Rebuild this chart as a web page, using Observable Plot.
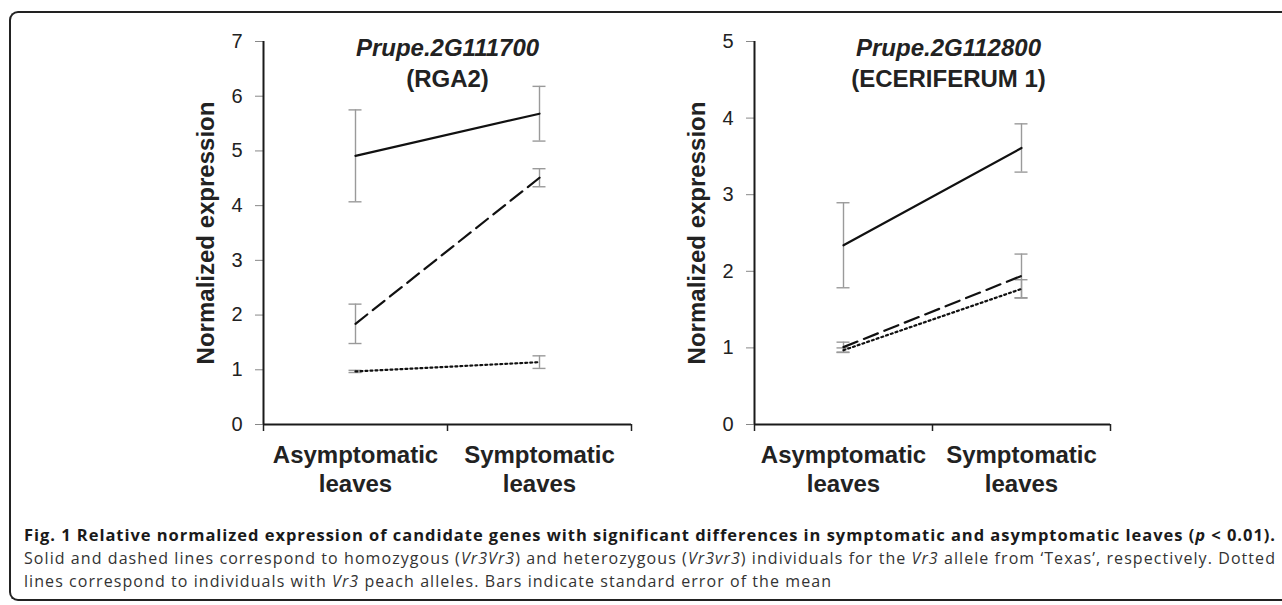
<!DOCTYPE html>
<html>
<head>
<meta charset="utf-8">
<script src="https://cdn.jsdelivr.net/npm/d3@7"></script>
<script src="https://cdn.jsdelivr.net/npm/@observablehq/plot@0.6"></script>
<style>
  html, body { margin: 0; padding: 0; background: #fff; width: 1282px; height: 605px; overflow: hidden; }
  #frame { position: absolute; left: 9px; top: 11px; width: 1320px; height: 590px;
           border: 2.5px solid #222; border-right: none; border-radius: 9px 0 0 9px; box-sizing: border-box; }
  .plot { position: absolute; top: 0; }
  .cap { position: absolute; left: 24px; white-space: nowrap; font-family: "Open Sans", "Noto Sans", sans-serif;
         color: #333; font-size: 16px; line-height: 22px; }
  .cap.b { font-weight: 700; color: #1a1a1a; font-size: 16.5px; }
</style>
</head>
<body>
<div id="frame"></div>
<div id="left" class="plot" style="left:0px"></div>
<div id="right" class="plot" style="left:640px"></div>
<div id="c1" class="cap b" style="top:524px">Fig. 1 Relative normalized expression of candidate genes with significant differences in symptomatic and asymptomatic leaves (<i>p</i>&nbsp;&lt;&nbsp;0.01).</div>
<div id="c2" class="cap" style="top:547px">Solid and dashed lines correspond to homozygous (<i>Vr3Vr3</i>) and heterozygous (<i>Vr3vr3</i>) individuals for the <i>Vr3</i> allele from ‘Texas’, respectively. Dotted</div>
<div id="c3" class="cap" style="top:570px">lines correspond to individuals with <i>Vr3</i> peach alleles. Bars indicate standard error of the mean</div>
<script>
// ---- data ----
const categories = ["Asymptomatic\nleaves", "Symptomatic\nleaves"];
const yLabel = "Normalized expression";

const geneA = "Prupe.2G111700";
const geneAName = "(RGA2)";
const yTicksA = [0, 1, 2, 3, 4, 5, 6, 7];
const solidA = [4.91, 5.68];
const solidA_se = [0.84, 0.50];
const dashedA = [1.84, 4.51];
const dashedA_se = [0.36, 0.165];
const dottedA = [0.97, 1.14];
const dottedA_se = [0.02, 0.115];

const geneB = "Prupe.2G112800";
const geneBName = "(ECERIFERUM 1)";
const yTicksB = [0, 1, 2, 3, 4, 5];
const solidB = [2.34, 3.61];
const solidB_se = [0.555, 0.315];
const dashedB = [1.01, 1.94];
const dashedB_se = [0.065, 0.285];
const dottedB = [0.97, 1.77];
const dottedB_se = [0.03, 0.12];

// ---- drawing ----
const FONT = "'Liberation Sans', Arial, Helvetica, sans-serif";

function rows(vals, se) {
  return vals.map((v, i) => ({x: i + 0.5, y: v, lo: v - se[i], hi: v + se[i]}));
}

function panel({width, marginLeft, marginRight, yTicks, series, title, titleName, titleDx}) {
  const height = 520, marginTop = 41, marginBottom = 96;
  const bandPx = (width - marginLeft - marginRight) / categories.length;
  const cap = 6.5 / bandPx;
  const styles = [
    {dash: null, w: 2.2},
    {dash: "15,7", w: 2.2},
    {dash: "2,3", w: 2.2}
  ];
  const marks = [];
  series.forEach((s, k) => {
    const r = rows(s.vals, s.se);
    marks.push(Plot.ruleX(r, {x: "x", y1: "lo", y2: "hi", stroke: "#9a9a9a", strokeWidth: 1.4}));
    marks.push(Plot.ruleY(r, {y: "lo", x1: d => d.x - cap, x2: d => d.x + cap, stroke: "#9a9a9a", strokeWidth: 1.4}));
    marks.push(Plot.ruleY(r, {y: "hi", x1: d => d.x - cap, x2: d => d.x + cap, stroke: "#9a9a9a", strokeWidth: 1.4}));
  });
  series.forEach((s, k) => {
    const r = rows(s.vals, s.se);
    const st = styles[k];
    const opts = {x: "x", y: "y", stroke: "#111", strokeWidth: st.w};
    if (st.dash) opts.strokeDasharray = st.dash;
    marks.push(Plot.line(r, opts));
  });
  marks.push(Plot.axisY({ticks: yTicks, tickSize: 8, tickPadding: 13, fontSize: 20, label: null,
                         tickFormat: d => String(d), stroke: "#888", fill: "#222"}));
  marks.push(Plot.axisX({ticks: d3.range(0, categories.length + 1), tickSize: 7, tickFormat: () => "",
                         label: null, stroke: "#222", strokeWidth: 1.5}));
  marks.push(Plot.ruleX([0], {stroke: "#1a1a1a", strokeWidth: 2}));
  marks.push(Plot.ruleY([0], {stroke: "#1a1a1a", strokeWidth: 2}));
  marks.push(Plot.text(categories, {x: (d, i) => i + 0.5, y: 0, text: d => d, lineAnchor: "top", dy: 18,
                                    fontSize: 24, fontWeight: "bold", lineHeight: 1.2, fill: "#222"}));
  marks.push(Plot.text([yLabel], {frameAnchor: "left", text: d => d, rotate: -90, dx: -57,
                                  fontSize: 24, fontWeight: "bold", fill: "#222", textAnchor: "middle"}));
  marks.push(Plot.text([title], {frameAnchor: "top", text: d => d, dy: 7, dx: titleDx, lineAnchor: "middle",
                                 fontSize: 24, fontWeight: "bold", fontStyle: "italic", fill: "#222"}));
  marks.push(Plot.text([titleName], {frameAnchor: "top", text: d => d, dy: 38, dx: titleDx, lineAnchor: "middle",
                                     fontSize: 24, fontWeight: "bold", fill: "#222"}));
  return Plot.plot({
    width, height, marginLeft, marginRight, marginTop, marginBottom,
    x: {domain: [0, categories.length], axis: null},
    y: {domain: [0, yTicks[yTicks.length - 1]], axis: null},
    style: {fontFamily: FONT, background: "transparent", overflow: "visible"},
    marks
  });
}

document.getElementById("left").appendChild(panel({
  width: 640, marginLeft: 263, marginRight: 9, yTicks: yTicksA, title: geneA, titleName: geneAName, titleDx: 0,
  series: [{vals: solidA, se: solidA_se}, {vals: dashedA, se: dashedA_se}, {vals: dottedA, se: dottedA_se}]
}));
document.getElementById("right").appendChild(panel({
  width: 480, marginLeft: 114, marginRight: 10, yTicks: yTicksB, title: geneB, titleName: geneBName, titleDx: 16,
  series: [{vals: solidB, se: solidB_se}, {vals: dashedB, se: dashedB_se}, {vals: dottedB, se: dottedB_se}]
}));

// fit caption lines to the justified width
function fit(id, target) {
  const el = document.getElementById(id);
  const w = el.getBoundingClientRect().width;
  const n = el.textContent.length;
  const ls = (target - w) / n;
  el.style.letterSpacing = ls + "px";
  return ls;
}
fit("c1", 1252);
const ls2 = fit("c2", 1252);
document.getElementById("c3").style.letterSpacing = ls2 + "px";
</script>
</body>
</html>
